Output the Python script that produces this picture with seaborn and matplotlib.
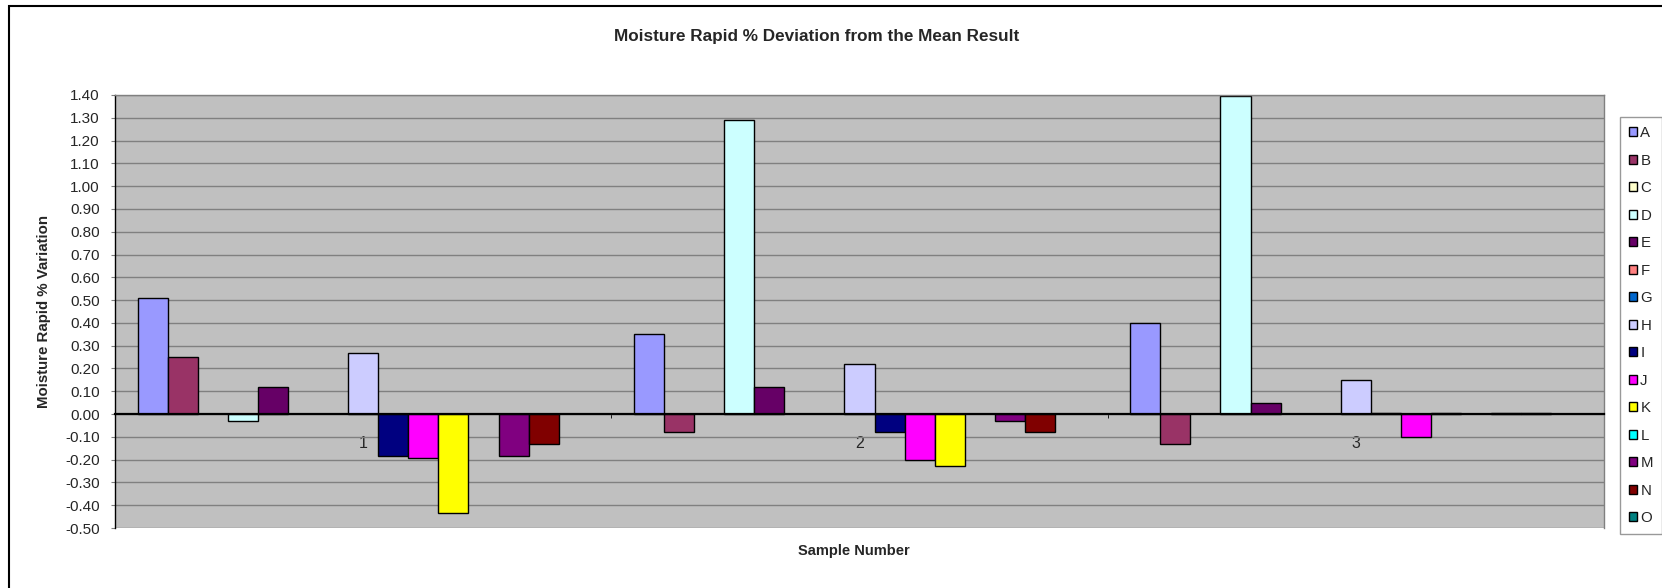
import numpy as np
import pandas as pd
import matplotlib
matplotlib.use('Agg')
import matplotlib.pyplot as plt
from matplotlib.patches import Patch, Rectangle
from matplotlib.ticker import FixedLocator, FormatStrFormatter
import seaborn as sns

# --- data ---
samples = ['1', '2', '3']
labs = ['A', 'B', 'C', 'D', 'E', 'F', 'G', 'H', 'I', 'J', 'K', 'L', 'M', 'N', 'O']
nan = np.nan
sample_1 = [0.51, 0.25, nan, -0.03, 0.12, nan, nan, 0.27, -0.185, -0.195, -0.435, nan, -0.185, -0.13, nan]
sample_2 = [0.35, -0.08, nan, 1.29, 0.12, nan, nan, 0.22, -0.08, -0.20, -0.23, nan, -0.03, -0.08, nan]
sample_3 = [0.40, -0.13, nan, 1.395, 0.05, nan, nan, 0.15, 0.004, -0.10, 0.004, nan, 0.003, 0.003, nan]
lab_colors = ['#9999FF', '#993366', '#FFFFCC', '#CCFFFF', '#660066', '#FF8080', '#0066CC', '#CCCCFF',
              '#000080', '#FF00FF', '#FFFF00', '#00FFFF', '#800080', '#800000', '#008080']
y_ticks = [-0.5, -0.4, -0.3, -0.2, -0.1, 0.0, 0.1, 0.2, 0.3, 0.4, 0.5, 0.6, 0.7,
           0.8, 0.9, 1.0, 1.1, 1.2, 1.3, 1.4]

rows = []
for s, vals in zip(samples, [sample_1, sample_2, sample_3]):
    for lab, v in zip(labs, vals):
        if not np.isnan(v):
            rows.append({'sample': s, 'lab': lab, 'value': v})
df = pd.DataFrame(rows)
palette = dict(zip(labs, lab_colors))

sns.set_style('white')
plt.rcParams['font.family'] = ['Liberation Sans', 'DejaVu Sans']

fig = plt.figure(figsize=(16.62, 5.88), dpi=100)
ax = fig.add_axes([115 / 1662, 1 - 528 / 588, (1604 - 115) / 1662, (528 - 95) / 588])
ax.set_facecolor('#C0C0C0')

# 15 bars per sample, Excel gap width 150%
sns.barplot(data=df, x='sample', y='value', hue='lab', order=samples, hue_order=labs,
            palette=palette, saturation=1, width=15 / 16.5, gap=0, dodge=True,
            edgecolor='black', linewidth=1, errorbar=None, legend=False, ax=ax)

ax.set_ylim(-0.5, 1.4)
ax.set_xlim(-0.5, 2.5)
ax.yaxis.set_major_locator(FixedLocator(y_ticks))
ax.yaxis.set_major_formatter(FormatStrFormatter('%.2f'))
ax.yaxis.grid(True, color='#808080', linewidth=1)
ax.set_axisbelow(True)
ax.tick_params(axis='y', which='major', length=3, color='#808080', pad=8,
               labelsize=11, left=True)

# x axis crosses at zero, Excel style
ax.spines['bottom'].set_position(('data', 0))
ax.spines['bottom'].set_color('black')
ax.spines['bottom'].set_linewidth(1.6)
ax.spines['left'].set_color('black')
ax.spines['left'].set_linewidth(1)
for side in ['top', 'right']:
    ax.spines[side].set_color('#808080')
    ax.spines[side].set_linewidth(1)
ax.xaxis.set_minor_locator(FixedLocator([-0.5, 0.5, 1.5, 2.5]))
ax.tick_params(axis='x', which='major', length=0, pad=16, labelsize=11.5)
ax.tick_params(axis='x', which='minor', length=3, color='black', direction='out', bottom=True)
ax.set_xlabel('')
ax.set_ylabel('')

fig.text(817 / 1662, 1 - 37 / 588, 'Moisture Rapid % Deviation from the Mean Result',
         ha='center', va='center', fontsize=12.3, fontweight='bold')
fig.text(854 / 1662, 1 - 551 / 588, 'Sample Number', ha='center', va='center',
         fontsize=10.5, fontweight='bold')
fig.text(44 / 1662, 1 - 311 / 588, 'Moisture Rapid % Variation', ha='center', va='center',
         rotation=90, fontsize=10.8, fontweight='bold')

handles = [Patch(facecolor=palette[l], edgecolor='black', linewidth=1) for l in labs]
leg = fig.legend(handles, labs, loc='upper left', bbox_to_anchor=(1620 / 1662, 1 - 117 / 588),
                 frameon=True, fancybox=False, fontsize=10.8, handlelength=0.55,
                 handleheight=0.55, handletextpad=0.2, labelspacing=0.9,
                 borderpad=0.6, borderaxespad=0)
leg.get_frame().set_edgecolor('#808080')
leg.get_frame().set_linewidth(1)
leg.get_frame().set_facecolor('white')

# outer chart border
fig.patches.append(Rectangle((9 / 1662, -0.1), 1.2, 1.1 - 6 / 588, transform=fig.transFigure,
                             fill=False, edgecolor='black', linewidth=1.5))

fig.savefig('out.png', dpi=100)
